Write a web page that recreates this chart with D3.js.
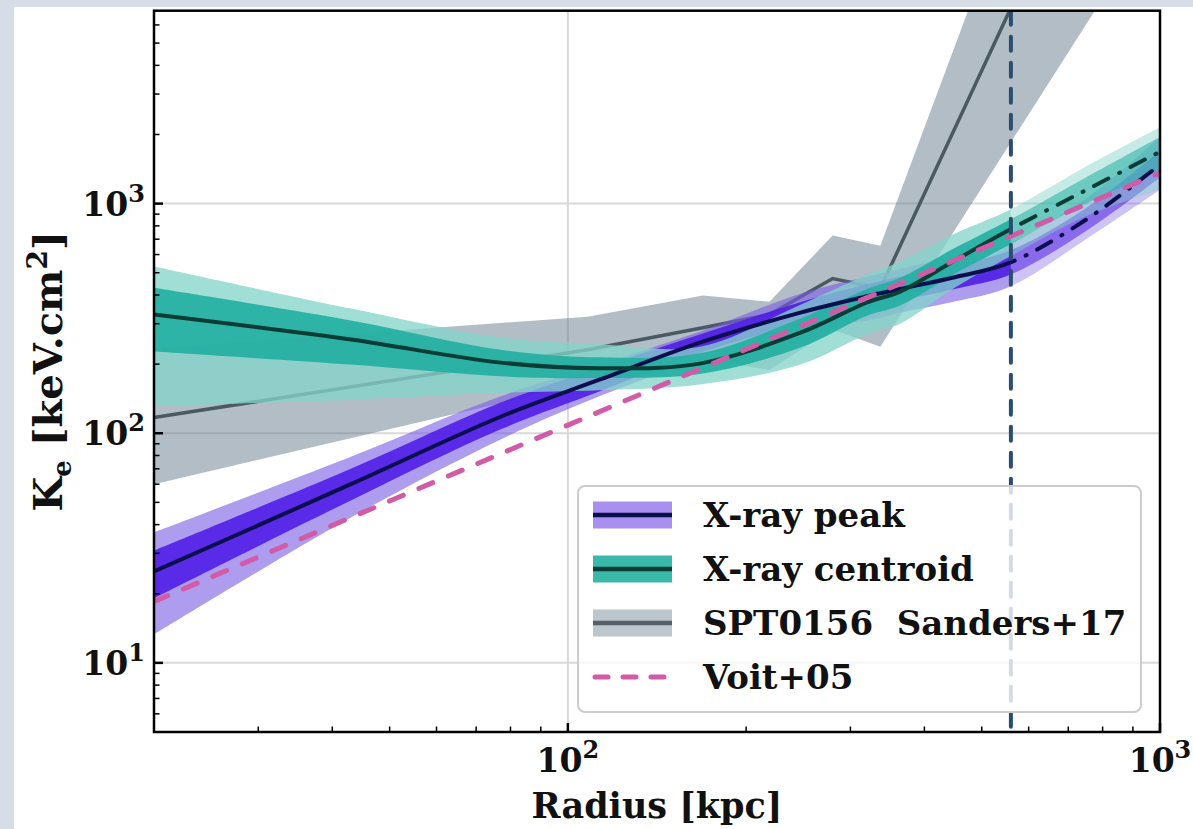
<!DOCTYPE html>
<html>
<head>
<meta charset="utf-8">
<script src="https://cdn.jsdelivr.net/npm/d3@7"></script>
<style>
body { margin: 0; background: #d6dde7; }
svg { display: block; }
text { font-family: "DejaVu Serif", serif; font-weight: bold; fill: #111111; }
</style>
</head>
<body>
<div id="chart"></div>
<script>

// radii (kpc) where the two fitted profiles were read
var radiusKpc = [20, 43, 77, 113, 167, 247, 320, 364, 450, 558, 750, 1000];

// X-ray peak profile, median and 1/2 sigma bands
var peakK   = [25, 60, 118, 171, 248, 335, 395, 425, 478, 553, 851, 1479];
var peakLo1 = [19.1, 51, 104, 152, 224, 300, 350, 378, 425, 490, 760, 1300];
var peakHi1 = [30.8, 70, 136, 193, 269, 372, 445, 480, 540, 625, 955, 1700];
var peakLo2 = [13.3, 43, 94, 145, 209, 280, 310, 335, 375, 435, 700, 1150];
var peakHi2 = [37, 79, 145, 199, 277, 405, 480, 520, 590, 676, 1050, 1950];

// X-ray centroid profile
var centK   = [329, 256, 203, 192, 201, 274, 371, 414, 565, 771, 1145, 1683];
var centLo1 = [227, 199, 177, 174, 181, 236, 325, 360, 495, 663, 1000, 1400];
var centHi1 = [430, 310, 231, 214, 223, 316, 425, 475, 640, 851, 1300, 1950];
var centLo2 = [131, 140, 150, 154, 163, 199, 270, 300, 430, 588, 880, 1150];
var centHi2 = [532, 349, 261, 244, 238, 363, 490, 560, 740, 941, 1450, 2150];

// SPT0156 Sanders+17
var sandersR  = [20, 108, 169, 219, 280, 337, 800];
var sandersK  = [117, 231, 288, 329, 472, 427, 51300];
var sandersLo = [60, 166, 209, 189, 283, 238, 7820];
var sandersHi = [234, 322, 398, 374, 726, 656, 256000];

// Voit+05 baseline
var voitR = [20, 50, 100, 200, 500, 1000];
var voitK = [18.5, 50.7, 108.5, 232, 637, 1362];

// last fitted radius (vertical marker, extrapolation beyond)
var rCut = 560;

var xMajor = [100, 1000];
var yMajor = [10, 100, 1000];
var xLabels = ["2", "3"];
var yLabels = ["1", "2", "3"];

var legendLabels = ["X-ray peak", "X-ray centroid", "SPT0156  Sanders+17", "Voit+05"];


var W = 1193, H = 829;
var pLeft = 154, pRight = 1160, pTop = 10.7, pBottom = 732;

var svg = d3.select("#chart")
	.append("svg")
	.attr("width", W)
	.attr("height", H);

svg.append("rect")
	.attr("x", 14).attr("y", 7)
	.attr("width", W - 14).attr("height", H - 7)
	.attr("fill", "#ffffff");

var x = d3.scaleLog().domain([20, 1000]).range([pLeft, pRight]);
var y = d3.scaleLog().domain([5, 6920]).range([pBottom, pTop]);

var defs = svg.append("defs");
defs.append("clipPath").attr("id", "clip")
	.append("rect")
	.attr("x", pLeft).attr("y", pTop)
	.attr("width", pRight - pLeft).attr("height", pBottom - pTop);
// inside / beyond the last fitted radius
defs.append("clipPath").attr("id", "clipIn")
	.append("rect")
	.attr("x", pLeft).attr("y", pTop)
	.attr("width", x(rCut) - pLeft).attr("height", pBottom - pTop);
defs.append("clipPath").attr("id", "clipOut")
	.append("rect")
	.attr("x", x(rCut)).attr("y", pTop)
	.attr("width", pRight - x(rCut)).attr("height", pBottom - pTop);

// grid
var grid = svg.append("g");
yMajor.forEach(function(v) {
	grid.append("line")
		.attr("x1", pLeft).attr("x2", pRight)
		.attr("y1", y(v)).attr("y2", y(v))
		.attr("stroke", "#d9d9d9").attr("stroke-width", 2);
});
xMajor.forEach(function(v) {
	grid.append("line")
		.attr("x1", x(v)).attr("x2", x(v))
		.attr("y1", pTop).attr("y2", pBottom)
		.attr("stroke", "#d9d9d9").attr("stroke-width", 2);
});

// layers, bottom to top
var plot = svg.append("g").attr("clip-path", "url(#clip)");
var plotIn = svg.append("g").attr("clip-path", "url(#clipIn)");
var plotOut = svg.append("g").attr("clip-path", "url(#clipOut)");
var plotTop = svg.append("g").attr("clip-path", "url(#clip)");

function rows(rs, mid, lo, hi) {
	return rs.map(function(r, i) {
		return {r: r, k: mid[i], lo: lo ? lo[i] : 0, hi: hi ? hi[i] : 0};
	});
}

var band = d3.area()
	.x(function(d) { return x(d.r); })
	.y0(function(d) { return y(d.lo); })
	.y1(function(d) { return y(d.hi); })
	.curve(d3.curveCatmullRom.alpha(0.5));

var curve = d3.line()
	.x(function(d) { return x(d.r); })
	.y(function(d) { return y(d.k); })
	.curve(d3.curveCatmullRom.alpha(0.5));

function drawBand(layer, data, color, op) {
	layer.append("path")
		.datum(data)
		.attr("d", band).attr("fill", color).attr("fill-opacity", op);
}

function drawCurve(layer, data, color, dash) {
	var p = layer.append("path")
		.datum(data)
		.attr("d", curve).attr("fill", "none")
		.attr("stroke", color).attr("stroke-width", 4);
	if (dash) p.attr("stroke-linecap", "round").attr("stroke-dasharray", "16,12,1,12");
}

// Sanders+17 band and line
var sanders = rows(sandersR, sandersK, sandersLo, sandersHi);
plot.append("path")
	.datum(sanders)
	.attr("d", d3.area()
		.x(function(d) { return x(d.r); })
		.y0(function(d) { return y(d.lo); })
		.y1(function(d) { return y(d.hi); }))
	.attr("fill", "#677b8d").attr("fill-opacity", 0.5);
plot.append("path")
	.datum(sanders)
	.attr("d", d3.line()
		.x(function(d) { return x(d.r); })
		.y(function(d) { return y(d.k); }))
	.attr("fill", "none")
	.attr("stroke", "#4b5962").attr("stroke-width", 3.5);

var peak = rows(radiusKpc, peakK, peakLo1, peakHi1);
var peak2 = rows(radiusKpc, peakK, peakLo2, peakHi2);
var cent = rows(radiusKpc, centK, centLo1, centHi1);
var cent2 = rows(radiusKpc, centK, centLo2, centHi2);

// bands: full strength inside rCut, paler beyond
[[plotIn, 1], [plotOut, 0.6]].forEach(function(l) {
	drawBand(l[0], peak2, "#785ae4", 0.6 * l[1]);
	drawBand(l[0], peak, "#501ee6", 0.9 * l[1]);
	drawBand(l[0], cent2, "#84d4ca", 0.77 * l[1]);
	drawBand(l[0], cent, "#24b0a2", 0.92 * l[1]);
});

drawCurve(plotIn, peak, "#0c0f4d", false);
drawCurve(plotOut, peak, "#0c0f4d", true);
drawCurve(plotIn, cent, "#0b3d36", false);
drawCurve(plotOut, cent, "#0b3d36", true);

// Voit+05
plotTop.append("path")
	.datum(rows(voitR, voitK))
	.attr("d", d3.line()
		.x(function(d) { return x(d.r); })
		.y(function(d) { return y(d.k); }))
	.attr("fill", "none")
	.attr("stroke", "#d25ba8").attr("stroke-width", 5)
	.attr("stroke-linecap", "round")
	.attr("stroke-dasharray", "15,17");

// vertical marker
plotTop.append("line")
	.attr("x1", x(rCut)).attr("x2", x(rCut))
	.attr("y1", pTop).attr("y2", pBottom)
	.attr("stroke", "#2b4d6e").attr("stroke-width", 4)
	.attr("stroke-linecap", "round")
	.attr("stroke-dasharray", "14,12");

// ticks (pointing inward)
var ticks = svg.append("g").attr("stroke", "#000000");
var yMinor = [];
[1, 10, 100, 1000].forEach(function(dec) {
	for (var m= 2; m< 10; m++) {
		var v = dec * m;
		if (v >= 5 && v <= 6920) yMinor.push(v);
	}
});
var xMinor = [];
[10, 100].forEach(function(dec) {
	for (var m= 2; m< 10; m++) {
		var v = dec * m;
		if (v > 20 && v < 1000) xMinor.push(v);
	}
});
yMinor.forEach(function(v) {
	ticks.append("line").attr("x1", pLeft).attr("x2", pLeft + 5.5)
		.attr("y1", y(v)).attr("y2", y(v)).attr("stroke-width", 1.5);
});
yMajor.forEach(function(v) {
	ticks.append("line").attr("x1", pLeft).attr("x2", pLeft + 9)
		.attr("y1", y(v)).attr("y2", y(v)).attr("stroke-width", 2.5);
});
xMinor.forEach(function(v) {
	ticks.append("line").attr("x1", x(v)).attr("x2", x(v))
		.attr("y1", pBottom).attr("y2", pBottom - 5.5).attr("stroke-width", 1.5);
});
xMajor.forEach(function(v) {
	ticks.append("line").attr("x1", x(v)).attr("x2", x(v))
		.attr("y1", pBottom).attr("y2", pBottom - 9).attr("stroke-width", 2.5);
});

// frame
svg.append("rect")
	.attr("x", pLeft).attr("y", pTop)
	.attr("width", pRight - pLeft).attr("height", pBottom - pTop)
	.attr("fill", "none").attr("stroke", "#000000").attr("stroke-width", 2.5);

// tick labels
function powLabel(sel, e) {
	sel.text("10");
	sel.append("tspan").attr("dy", -14).attr("font-size", 24).text(e);
}
yMajor.forEach(function(v, i) {
	svg.append("text")
		.attr("x", 145).attr("y", y(v) + 12)
		.attr("font-size", 33)
		.style("text-anchor", "end")
		.call(powLabel, yLabels[i]);
});
xMajor.forEach(function(v, i) {
	svg.append("text")
		.attr("x", x(v)).attr("y", 772)
		.attr("font-size", 33)
		.style("text-anchor", "middle")
		.call(powLabel, xLabels[i]);
});

// axis titles
svg.append("text")
	.attr("x", (pLeft + pRight) / 2).attr("y", 818)
	.attr("font-size", 35)
	.style("text-anchor", "middle")
	.text("Radius [kpc]");

var ylab = svg.append("text")
	.attr("transform", "translate(62," + ((pTop + pBottom) / 2) + ") rotate(-90)")
	.attr("font-size", 40)
	.style("text-anchor", "middle");
ylab.append("tspan").text("K");
ylab.append("tspan").attr("dy", 9).attr("font-size", 26).text("e");
ylab.append("tspan").attr("dy", -9).text(" [keV.cm");
ylab.append("tspan").attr("dy", -15).attr("font-size", 28).text("2");
ylab.append("tspan").attr("dy", 15).text("]");

// legend
var legend = svg.append("g");
legend.append("rect")
	.attr("x", 578).attr("y", 486)
	.attr("width", 563).attr("height", 226)
	.attr("rx", 7)
	.attr("fill", "#ffffff").attr("fill-opacity", 0.8)
	.attr("stroke", "#cccccc").attr("stroke-width", 2);

var patchFill = ["#a98ff0", "#3ab9ab", "#bec6cd", null];
var patchLine = ["#0c0f4d", "#0b3d36", "#55616a", "#d25ba8"];

legendLabels.forEach(function(lab, i) {
	var cy = 515 + i * 54;
	if (patchFill[i]) {
		legend.append("rect")
			.attr("x", 593).attr("y", cy - 13.5)
			.attr("width", 79).attr("height", 27)
			.attr("fill", patchFill[i]);
		legend.append("line")
			.attr("x1", 593).attr("x2", 672)
			.attr("y1", cy).attr("y2", cy)
			.attr("stroke", patchLine[i]).attr("stroke-width", 4.5);
	} else {
		legend.append("line")
			.attr("x1", 595).attr("x2", 670)
			.attr("y1", cy).attr("y2", cy)
			.attr("stroke", patchLine[i]).attr("stroke-width", 5)
			.attr("stroke-linecap", "round")
			.attr("stroke-dasharray", "13,15");
	}
	legend.append("text")
		.attr("x", 703).attr("y", cy + 12)
		.attr("font-size", 34)
		.style("white-space", "pre")
		.text(lab);
});

</script>
</body>
</html>
